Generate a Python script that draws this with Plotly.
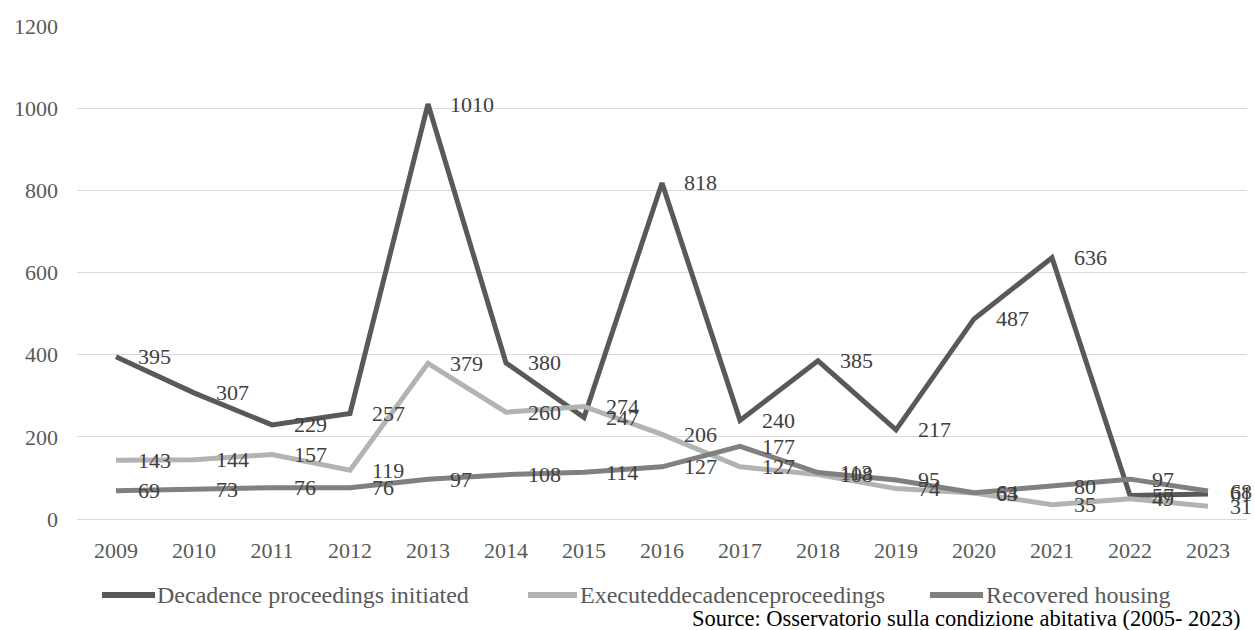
import plotly.graph_objects as go

# Years on the category axis
years = ["2009", "2010", "2011", "2012", "2013", "2014", "2015", "2016",
         "2017", "2018", "2019", "2020", "2021", "2022", "2023"]

# Series values
initiated = [395, 307, 229, 257, 1010, 380, 247, 818, 240, 385, 217, 487, 636, 57, 61]
executed = [143, 144, 157, 119, 379, 260, 274, 206, 127, 108, 74, 63, 35, 49, 31]
recovered = [69, 73, 76, 76, 97, 108, 114, 127, 177, 113, 95, 64, 80, 97, 68]

series_names = ["Decadence proceedings initiated",
                "Executeddecadenceproceedings",
                "Recovered housing"]
y_ticks = [0, 200, 400, 600, 800, 1000, 1200]
source_note = "Source: Osservatorio sulla condizione abitativa (2005- 2023)"

FONT = "Liberation Serif, Times New Roman, serif"
colors = ["#595959", "#b3b3b3", "#808080"]
series = [initiated, executed, recovered]

fig = go.Figure()
for name, vals, col in zip(series_names, series, colors):
    fig.add_trace(go.Scatter(
        x=years, y=vals, mode="lines", name=name,
        line=dict(color=col, width=5), showlegend=False,
        hoverinfo="x+y+name",
    ))

# Value labels to the right of each point (x given as category index)
annotations = []
for vals in series:
    for i, v in enumerate(vals):
        annotations.append(dict(
            x=i, y=v, xref="x", yref="y", text=str(v), showarrow=False,
            xanchor="left", yanchor="middle", xshift=20,
            font=dict(family=FONT, size=22, color="#404040"),
        ))

# Legend drawn along the bottom: (line start, line end, text start) as plot fractions
legend_pos = [(0.0214, 0.0667, 0.0684),
              (0.3855, 0.4274, 0.4299),
              (0.7290, 0.7744, 0.7769)]
legend_y = -0.154
shapes = []
for (x0, x1, xt), name, col in zip(legend_pos, series_names, colors):
    shapes.append(dict(
        type="line", xref="paper", yref="paper",
        x0=x0, x1=x1, y0=legend_y, y1=legend_y,
        line=dict(color=col, width=6),
    ))
    annotations.append(dict(
        x=xt, y=legend_y, xref="paper", yref="paper", text=name,
        showarrow=False, xanchor="left", yanchor="middle", xshift=-2,
        font=dict(family=FONT, size=24, color="#595959"),
    ))

annotations.append(dict(
    x=0.9966, y=-0.201, xref="paper", yref="paper", text=source_note,
    showarrow=False, xanchor="right", yanchor="middle",
    font=dict(family=FONT, size=22.5, color="#000000"),
))

fig.update_layout(
    width=1255, height=630,
    margin=dict(l=77, r=8, t=26, b=111),
    paper_bgcolor="white", plot_bgcolor="white",
    font=dict(family=FONT, size=22, color="#595959"),
    annotations=annotations, shapes=shapes,
    showlegend=False,
)
fig.update_xaxes(
    type="category", range=[-0.5, 14.5], showgrid=False,
    showline=False, ticks="", ticklabelstandoff=16,
    tickfont=dict(family=FONT, size=22, color="#595959"),
)
fig.update_yaxes(
    range=[0, 1200], tickvals=y_ticks, showgrid=True,
    gridcolor="#d9d9d9", gridwidth=1, zeroline=True,
    zerolinecolor="#d9d9d9", zerolinewidth=1, showline=False,
    ticks="", ticklabelstandoff=18,
    tickfont=dict(family=FONT, size=22, color="#595959"),
)

fig.write_html("out.html")
